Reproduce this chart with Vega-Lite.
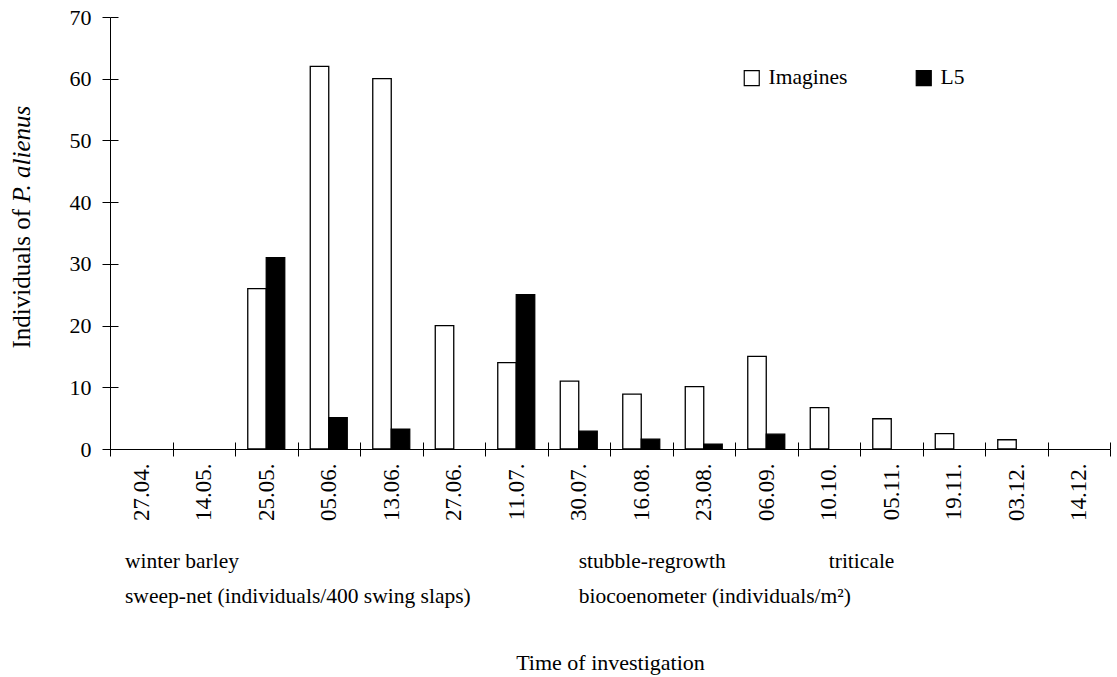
{
  "$schema": "https://vega.github.io/schema/vega-lite/v6.json",
  "width": 1000,
  "height": 432,
  "autosize": "none",
  "padding": {"left": 110, "top": 17, "right": 7, "bottom": 228},
  "background": "white",
  "config": {
    "font": "Liberation Serif",
    "view": {"stroke": null},
    "axis": {
      "labelFont": "Liberation Serif",
      "titleFont": "Liberation Serif",
      "domainColor": "black",
      "tickColor": "black",
      "labelColor": "black",
      "titleColor": "black",
      "titleFontWeight": "normal",
      "grid": false,
      "domainWidth": 1,
      "tickWidth": 1
    },
    "legend": {"labelFont": "Liberation Serif", "labelColor": "black"}
  },
  "datasets": {
    "counts": [
      {"date": "25.05.", "stage": "Imagines", "count": 26},
      {"date": "25.05.", "stage": "L5", "count": 31},
      {"date": "05.06.", "stage": "Imagines", "count": 62},
      {"date": "05.06.", "stage": "L5", "count": 5.1},
      {"date": "13.06.", "stage": "Imagines", "count": 60},
      {"date": "13.06.", "stage": "L5", "count": 3.2},
      {"date": "27.06.", "stage": "Imagines", "count": 20},
      {"date": "11.07.", "stage": "Imagines", "count": 14},
      {"date": "11.07.", "stage": "L5", "count": 25},
      {"date": "30.07.", "stage": "Imagines", "count": 11},
      {"date": "30.07.", "stage": "L5", "count": 2.9},
      {"date": "16.08.", "stage": "Imagines", "count": 8.9},
      {"date": "16.08.", "stage": "L5", "count": 1.6},
      {"date": "23.08.", "stage": "Imagines", "count": 10.1},
      {"date": "23.08.", "stage": "L5", "count": 0.8},
      {"date": "06.09.", "stage": "Imagines", "count": 15},
      {"date": "06.09.", "stage": "L5", "count": 2.4},
      {"date": "10.10.", "stage": "Imagines", "count": 6.7},
      {"date": "05.11.", "stage": "Imagines", "count": 4.9},
      {"date": "19.11.", "stage": "Imagines", "count": 2.5},
      {"date": "03.12.", "stage": "Imagines", "count": 1.5}
    ],
    "notes": [
      {"date": "27.04.", "text": "winter barley\nsweep-net (individuals/400 swing slaps)"},
      {"date": "30.07.", "text": "stubble-regrowth\nbiocoenometer (individuals/m²)"},
      {"date": "10.10.", "text": "triticale"}
    ]
  },
  "layer": [
    {
      "data": {"name": "counts"},
      "mark": {"type": "bar", "stroke": "black", "strokeWidth": 1.3},
      "encoding": {
        "x": {
          "field": "date",
          "type": "nominal",
          "sort": null,
          "scale": {
            "domain": ["27.04.", "14.05.", "25.05.", "05.06.", "13.06.", "27.06.", "11.07.", "30.07.", "16.08.", "23.08.", "06.09.", "10.10.", "05.11.", "19.11.", "03.12.", "14.12."],
            "paddingInner": 0,
            "paddingOuter": 0
          },
          "axis": {
            "orient": "bottom",
            "labelAngle": 270,
            "tickSize": 7,
            "tickBand": "extent",
            "labelPadding": 7,
            "labelFontSize": 23,
            "title": "Time of investigation",
            "titleFontSize": 22,
            "titleX": 500,
            "titleY": 213,
            "titleAlign": "center",
            "titleBaseline": "middle"
          }
        },
        "xOffset": {
          "field": "stage",
          "type": "nominal",
          "sort": ["Imagines", "L5"],
          "scale": {"paddingInner": 0, "paddingOuter": 0.69}
        },
        "y": {
          "field": "count",
          "type": "quantitative",
          "scale": {"domain": [0, 70], "nice": false},
          "axis": {
            "orient": "left",
            "values": [0, 10, 20, 30, 40, 50, 60, 70],
            "tickSize": 8,
            "labelPadding": 11,
            "labelFontSize": 22,
            "title": "Individuals of",
            "titleFontSize": 25,
            "titleAngle": 270,
            "titleAlign": "left",
            "titleBaseline": "middle",
            "titleX": -89,
            "titleY": 331
          }
        },
        "fill": {
          "field": "stage",
          "type": "nominal",
          "scale": {"domain": ["Imagines", "L5"], "range": ["white", "black"]},
          "legend": {
            "title": null,
            "orient": "none",
            "legendX": 631,
            "legendY": 50,
            "direction": "horizontal",
            "padding": 0,
            "symbolType": "square",
            "symbolSize": 225,
            "symbolStrokeColor": "black",
            "symbolStrokeWidth": 1.2,
            "labelFontSize": 21.5,
            "labelOffset": 6,
            "columnPadding": 65
          }
        }
      }
    },
    {
      "data": {"name": "notes"},
      "transform": [{"filter": "datum.date === '27.04.'"}],
      "mark": {"type": "text", "align": "left", "baseline": "top", "lineBreak": "\n", "lineHeight": 35, "fontSize": 21.5, "dx": 15, "color": "black"},
      "encoding": {
        "x": {"field": "date", "type": "nominal", "bandPosition": 0, "axis": null},
        "y": {"datum": -16.45, "type": "quantitative", "axis": null},
        "text": {"field": "text"}
      }
    },
    {
      "data": {"name": "notes"},
      "transform": [{"filter": "datum.date !== '27.04.'"}],
      "mark": {"type": "text", "align": "left", "baseline": "top", "lineBreak": "\n", "lineHeight": 35, "fontSize": 21.5, "color": "black"},
      "encoding": {
        "x": {
          "field": "date",
          "type": "nominal",
          "axis": {
            "orient": "bottom",
            "offset": -7,
            "tickSize": 7,
            "tickBand": "extent",
            "labels": false,
            "domain": false,
            "title": null
          }
        },
        "y": {
          "datum": -16.45,
          "type": "quantitative",
          "axis": {
            "orient": "left",
            "offset": -8,
            "values": [0, 10, 20, 30, 40, 50, 60, 70],
            "tickSize": 8,
            "labels": false,
            "domain": false,
            "title": "P. alienus",
            "titleFontStyle": "italic",
            "titleFontSize": 25,
            "titleAngle": 270,
            "titleAlign": "left",
            "titleBaseline": "middle",
            "titleX": -97,
            "titleY": 185
          }
        },
        "text": {"field": "text"}
      }
    }
  ],
  "resolve": {"axis": {"x": "independent", "y": "independent"}}
}
